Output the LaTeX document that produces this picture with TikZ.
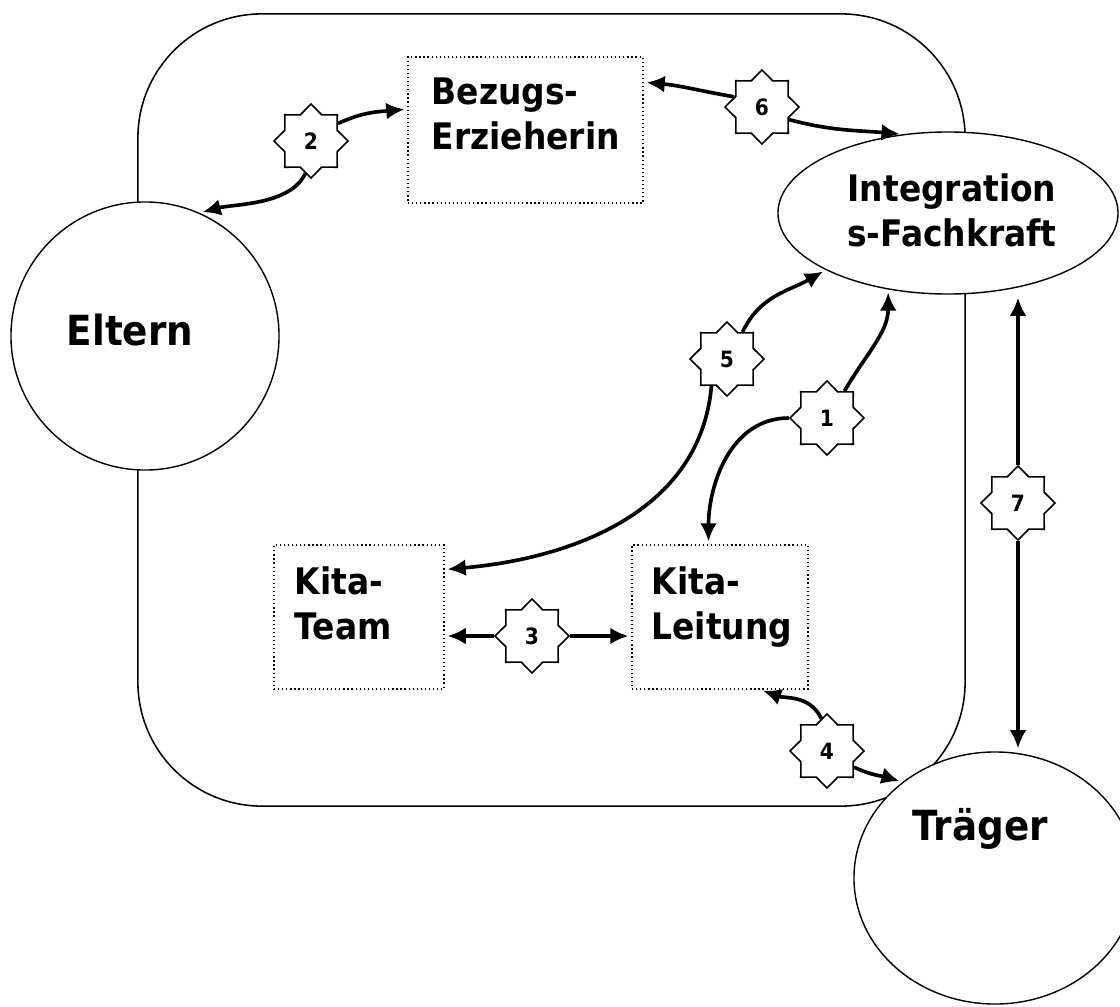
\documentclass[tikz,border=0pt]{standalone}
\usepackage{fontspec}
\newfontfamily\diafont[FakeStretch=0.9]{DejaVu Sans}
\usetikzlibrary{shapes.geometric,arrows.meta}

\begin{document}
\begin{tikzpicture}[x=0.025cm,y=-0.025cm,
  party/.style={draw,line width=1pt,fill=white,inner sep=0pt},
  box/.style={draw,line width=0.9pt,dotted,inner sep=0pt,minimum height=3.6cm},
  lbl/.style={font=\diafont\bfseries\fontsize{26}{32}\selectfont,align=left,inner sep=0pt},
  big/.style={font=\diafont\bfseries\fontsize{29.5}{35}\selectfont,inner sep=0pt},
  badge/.style={star,star points=8,star point ratio=1.31,draw,line width=1.2pt,fill=white,
    minimum size=1.85cm,inner sep=0pt,font=\diafont\bfseries\fontsize{16}{19}\selectfont},
  conn/.style={line width=2.6pt,-{Latex[length=13pt,width=12pt]},shorten >=2pt}]
\useasboundingbox (0,0) rectangle (1120,1007);
\clip (0,0) rectangle (1120,1007);

% Kita as frame
\node[draw,line width=1.1pt,rounded corners=3.1cm,minimum width=20.675cm,minimum height=19.8cm] (kita) at (551.5,410) {};

\node[party,circle,minimum size=6.7cm] (eltern) at (145,336) {};
\node[party,ellipse,minimum width=8.5cm,minimum height=4.05cm] (integ) at (948,213) {};
\node[party,ellipse,minimum width=7.05cm,minimum height=6.3cm] (traeger) at (995,878) {};

\node[big,anchor=base] (elterntxt) at (130,345) {Eltern};
\node[lbl,align=center] (integtxt) at (952,210) {Integration\\s-Fachkraft};
\node[big,anchor=base] (traegertxt) at (980,840) {Träger};

\node[box,minimum width=5.875cm,minimum height=3.65cm] (bezug) at (525.5,130) {};
\node[box,minimum width=4.25cm] (team) at (359,617) {};
\node[box,minimum width=4.4cm] (leitung) at (720,617) {};

\node[lbl,anchor=north west] (bezugtxt) at ([shift={(24,21)}]bezug.north west) {Bezugs-\\Erzieherin};
\node[lbl,anchor=north west] (teamtxt) at ([shift={(21,22)}]team.north west) {Kita-\\Team};
\node[lbl,anchor=north west] (leitungtxt) at ([shift={(20,22)}]leitung.north west) {Kita-\\Leitung};

\node[badge] (s1) at (827,418) {1};
\node[badge] (s2) at (311,141) {2};
\node[badge] (s3) at (532,636) {3};
\node[badge] (s4) at (827,751) {4};
\node[badge] (s5) at (727,359) {5};
\node[badge] (s6) at (762,107) {6};
\node[badge] (s7) at (1018,503) {7};

\draw[conn] (s1.57) to[out=60,in=-90] (integ.-128);
\draw[conn] (s1.west) to[out=180,in=90] (leitung.99);

\draw[conn] (s2.33) to[out=25,in=185] (bezug.170);
\draw[conn] (s2.-100) to[out=-115,in=15,looseness=0.8] (eltern.66);

\draw[conn] (s3.west) -- (s3.west -| team.east);
\draw[conn] (s3.east) -- (s3.east -| leitung.west);

\draw[conn] (s4.100) to[out=115,in=-20] (leitung.-61);
\draw[conn] (s4.-31) to[out=-25,in=163] (traeger.134);

\draw[conn] (s5.60) to[out=65,in=-150] (integ.205);
\draw[conn] (s5.-120) to[out=-95,in=5] (team.29);

\draw[conn] (s6.160) to[out=170,in=-5] (bezug.22);
\draw[conn] (s6.-25) to[out=-15,in=175] (integ.120);

\draw[conn] (s7.north) -- (s7 |- integ.south);
\draw[conn] (s7.south) -- (s7 |- traeger.north);
\end{tikzpicture}
\end{document}
